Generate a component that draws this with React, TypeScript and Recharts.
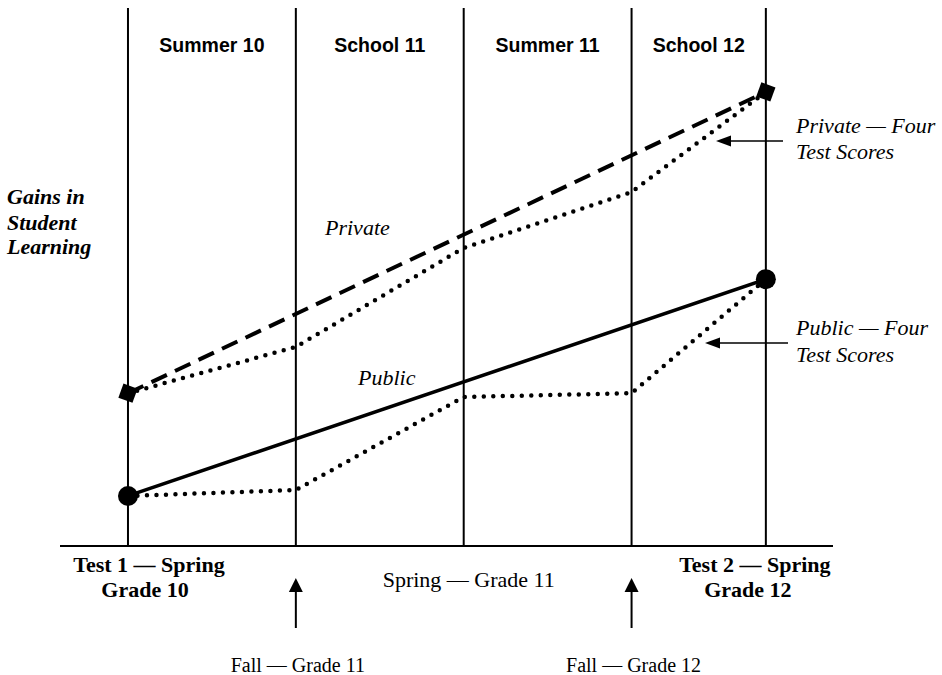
import { LineChart, Line, XAxis, YAxis, ReferenceLine, ReferenceArea, Customized } from "recharts"

// x positions of the four test dates (Spring 10, Fall 11, Spring 11, Fall 12, Spring 12)
const times = [0, 1, 2, 3, 3.8]
const privateScores = [28.4, 37.0, 55.4, 65.8, 84.4]
const publicScores = [9.3, 10.4, 27.7, 28.4, 49.6]
const privateTrend = [28.4, null, null, null, 84.4]
const publicTrend = [9.3, null, null, null, 49.6]

const periodLabels = ["Summer 10", "School 11", "Summer 11", "School 12"]
const tickKinds = ["test", "fall", "spring", "fall", "test"]
const tickLabels = [
  ["Test 1 — Spring", "Grade 10"],
  ["Fall — Grade 11"],
  ["Spring — Grade 11"],
  ["Fall — Grade 12"],
  ["Test 2 — Spring", "Grade 12"],
]

const data = times.map((t, i) => ({
  t,
  privateScores: privateScores[i],
  publicScores: publicScores[i],
  privateTrend: privateTrend[i],
  publicTrend: publicTrend[i],
}))

const SERIF = '"Liberation Serif", "Times New Roman", serif'
const SANS = '"Liberation Sans", Arial, sans-serif'

const SquareDot = (props: any) => {
  const { cx, cy, value, index } = props
  if (value == null || cx == null || cy == null) return <g key={index} />
  return (
    <rect
      key={index}
      x={cx - 7.5}
      y={cy - 7.5}
      width={15}
      height={15}
      fill="#000"
      transform={`rotate(20 ${cx} ${cy})`}
    />
  )
}

const CircleDot = (props: any) => {
  const { cx, cy, value, index } = props
  if (value == null || cx == null || cy == null) return <g key={index} />
  return <circle key={index} cx={cx} cy={cy} r={10} fill="#000" />
}

const BottomTick = (props: any) => {
  const { x, y, payload } = props
  const i = times.indexOf(payload.value)
  const kind = tickKinds[i]
  const lines = tickLabels[i]
  if (kind === "test") {
    const shifts = i === 0 ? [21, 17] : [-11, -18]
    return (
      <g>
        {lines.map((l, k) => (
          <text
            key={k}
            x={x + shifts[k]}
            y={y + 26 + k * 25}
            textAnchor="middle"
            fontFamily={SERIF}
            fontWeight="bold"
            fontSize={22}
            fill="#000"
          >
            {l}
          </text>
        ))}
      </g>
    )
  }
  if (kind === "spring") {
    return (
      <text x={x + 5} y={y + 41} textAnchor="middle" fontFamily={SERIF} fontSize={22} fill="#000">
        {lines[0]}
      </text>
    )
  }
  return (
    <g>
      <line x1={x} y1={y + 82} x2={x} y2={y + 44} stroke="#000" strokeWidth={2} />
      <polygon points={`${x},${y + 32} ${x - 7},${y + 46} ${x + 7},${y + 46}`} fill="#000" />
      <text x={x + 2} y={y + 126} textAnchor="middle" fontFamily={SERIF} fontSize={20} fill="#000">
        {lines[0]}
      </text>
    </g>
  )
}

const Arrow = ({ x1, x2, y }: { x1: number; x2: number; y: number }) => (
  <g>
    <line x1={x1} y1={y} x2={x2 + 12} y2={y} stroke="#000" strokeWidth={1.5} />
    <polygon points={`${x2},${y} ${x2 + 15},${y - 5.5} ${x2 + 15},${y + 5.5}`} fill="#000" />
  </g>
)

const Annotations = () => (
  <g fill="#000">
    <text fontFamily={SERIF} fontStyle="italic" fontWeight="bold" fontSize={22}>
      <tspan x={7} y={204}>Gains in</tspan>
      <tspan x={7} y={230}>Student</tspan>
      <tspan x={7} y={254}>Learning</tspan>
    </text>
    <text x={325} y={235} fontFamily={SERIF} fontStyle="italic" fontSize={22}>Private</text>
    <text x={358} y={385} fontFamily={SERIF} fontStyle="italic" fontSize={22}>Public</text>
    <text fontFamily={SERIF} fontStyle="italic" fontSize={22}>
      <tspan x={796} y={133}>Private — Four</tspan>
      <tspan x={796} y={159}>Test Scores</tspan>
    </text>
    <text fontFamily={SERIF} fontStyle="italic" fontSize={22}>
      <tspan x={796} y={335}>Public — Four</tspan>
      <tspan x={796} y={362}>Test Scores</tspan>
    </text>
    <Arrow x1={783} x2={716} y={141} />
    <Arrow x1={788} x2={705} y={343} />
  </g>
)

export default function App() {
  return (
    <div style={{ position: "absolute", left: 0, top: 0, background: "#fff" }}>
      <LineChart width={942} height={675} data={data} margin={{ top: 8, right: 109, left: 60, bottom: 0 }}>
        <XAxis
          dataKey="t"
          type="number"
          domain={[-0.405, 4.2]}
          ticks={times}
          interval={0}
          height={129}
          tickLine={false}
          tickSize={0}
          tickMargin={0}
          axisLine={{ stroke: "#000", strokeWidth: 2 }}
          tick={<BottomTick />}
        />
        <YAxis hide domain={[0, 100]} />
        {periodLabels.map((p, i) => (
          <ReferenceArea
            key={p}
            x1={times[i]}
            x2={times[i + 1]}
            fill="none"
            fillOpacity={0}
            stroke="none"
            label={{
              value: p,
              position: "insideTop",
              offset: 30,
              fill: "#000",
              fontSize: 19.5,
              fontWeight: "bold",
              fontFamily: SANS,
            }}
          />
        ))}
        {times.map((t) => (
          <ReferenceLine key={t} x={t} stroke="#000" strokeWidth={2} />
        ))}
        <Line
          dataKey="privateScores"
          stroke="#000"
          strokeWidth={4.5}
          strokeDasharray="0 9.5"
          strokeLinecap="round"
          dot={false}
          isAnimationActive={false}
        />
        <Line
          dataKey="publicScores"
          stroke="#000"
          strokeWidth={4.5}
          strokeDasharray="0 9.5"
          strokeLinecap="round"
          dot={false}
          isAnimationActive={false}
        />
        <Line
          dataKey="privateTrend"
          stroke="#000"
          strokeWidth={4}
          strokeDasharray="17 9"
          connectNulls
          dot={<SquareDot />}
          isAnimationActive={false}
        />
        <Line
          dataKey="publicTrend"
          stroke="#000"
          strokeWidth={3.5}
          connectNulls
          dot={<CircleDot />}
          isAnimationActive={false}
        />
        <Customized component={Annotations} />
      </LineChart>
    </div>
  )
}
